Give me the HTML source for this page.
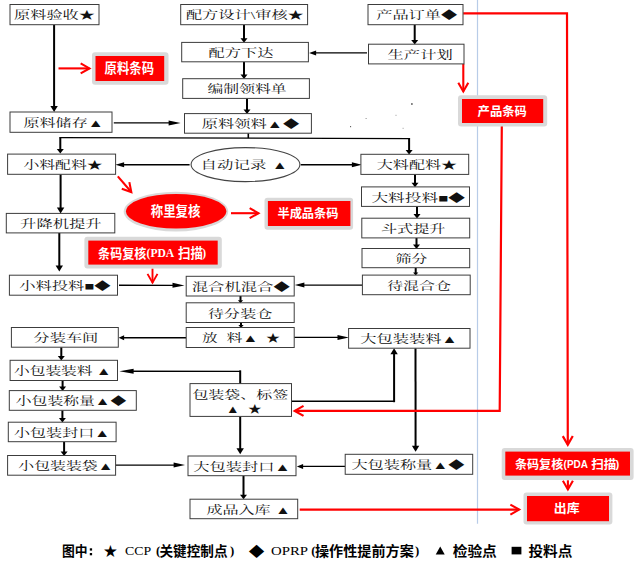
<!DOCTYPE html>
<html lang="zh"><head><meta charset="utf-8"><title>生产工艺流程图</title>
<style>
html,body{margin:0;padding:0;background:#fff;}
body{width:634px;height:566px;overflow:hidden;font-family:"Liberation Sans",sans-serif;}
svg{display:block;}
.bx{font-family:"Liberation Serif","Noto Serif CJK SC",serif;font-size:11px;fill:#111;}
.rd{font-family:"Liberation Sans","Noto Sans CJK SC",sans-serif;font-weight:bold;fill:#fff;}
.lg{font-family:"Liberation Sans","Noto Sans CJK SC",sans-serif;font-weight:bold;font-size:13.6px;fill:#000;}
</style></head><body>
<svg width="634" height="566" viewBox="0 0 634 566" role="img" aria-label="生产工艺流程图">
<rect width="634" height="566" fill="#fff"/>
<line x1="477.5" y1="0" x2="477.5" y2="523.7" stroke="#b8cce8" stroke-width="1.2"/>
<line x1="54.10" y1="24.70" x2="54.10" y2="107.30" stroke="#000" stroke-width="2.00"/>
<polygon points="54.10,112.10 50.40,106.10 57.80,106.10" fill="#000"/>
<line x1="244.00" y1="24.70" x2="244.00" y2="39.20" stroke="#000" stroke-width="2.00"/>
<polygon points="244.00,42.80 240.50,38.30 247.50,38.30" fill="#000"/>
<line x1="244.00" y1="61.80" x2="244.00" y2="75.50" stroke="#000" stroke-width="2.00"/>
<polygon points="244.00,79.10 240.50,74.60 247.50,74.60" fill="#000"/>
<line x1="247.00" y1="98.40" x2="247.00" y2="110.40" stroke="#000" stroke-width="2.00"/>
<polygon points="247.00,114.00 243.50,109.50 250.50,109.50" fill="#000"/>
<line x1="414.70" y1="24.70" x2="414.70" y2="41.00" stroke="#000" stroke-width="2.00"/>
<polygon points="414.70,44.60 411.20,40.10 418.20,40.10" fill="#000"/>
<line x1="367.00" y1="52.90" x2="314.70" y2="52.90" stroke="#000" stroke-width="1.40"/>
<polygon points="309.10,52.90 316.10,50.40 316.10,55.40" fill="#000"/>
<line x1="113.80" y1="122.90" x2="171.00" y2="122.90" stroke="#000" stroke-width="1.40"/>
<polygon points="180.60,122.90 168.60,125.40 168.60,120.40" fill="#000"/>
<line x1="60.30" y1="137.60" x2="60.30" y2="149.80" stroke="#000" stroke-width="2.00"/>
<polygon points="60.30,153.40 56.80,148.90 63.80,148.90" fill="#000"/>
<line x1="409.10" y1="138.60" x2="409.10" y2="151.00" stroke="#000" stroke-width="2.00"/>
<polygon points="409.10,154.60 405.60,150.10 412.60,150.10" fill="#000"/>
<line x1="189.60" y1="164.80" x2="122.36" y2="164.80" stroke="#000" stroke-width="1.40"/>
<polygon points="115.40,164.80 124.10,162.30 124.10,167.30" fill="#000"/>
<line x1="300.70" y1="164.70" x2="353.90" y2="164.70" stroke="#000" stroke-width="1.40"/>
<polygon points="361.90,164.70 351.90,167.20 351.90,162.20" fill="#000"/>
<line x1="60.60" y1="174.30" x2="60.60" y2="208.70" stroke="#000" stroke-width="2.00"/>
<polygon points="60.60,213.50 56.90,207.50 64.30,207.50" fill="#000"/>
<line x1="59.30" y1="232.90" x2="59.30" y2="266.70" stroke="#000" stroke-width="2.00"/>
<polygon points="59.30,271.50 55.60,265.50 63.00,265.50" fill="#000"/>
<line x1="415.00" y1="174.30" x2="415.00" y2="183.70" stroke="#000" stroke-width="2.00"/>
<polygon points="415.00,187.30 411.50,182.80 418.50,182.80" fill="#000"/>
<line x1="417.00" y1="206.40" x2="417.00" y2="215.00" stroke="#000" stroke-width="2.00"/>
<polygon points="417.00,218.60 413.50,214.10 420.50,214.10" fill="#000"/>
<line x1="416.50" y1="237.90" x2="416.50" y2="245.30" stroke="#000" stroke-width="2.00"/>
<polygon points="416.50,248.90 413.00,244.40 420.00,244.40" fill="#000"/>
<line x1="415.70" y1="267.70" x2="415.70" y2="273.20" stroke="#000" stroke-width="2.00"/>
<polygon points="415.70,275.60 413.10,272.60 418.30,272.60" fill="#000"/>
<line x1="119.00" y1="285.20" x2="174.90" y2="285.37" stroke="#000" stroke-width="1.40"/>
<polygon points="184.50,285.40 172.49,287.86 172.51,282.86" fill="#000"/>
<line x1="362.40" y1="285.10" x2="302.48" y2="285.10" stroke="#000" stroke-width="1.40"/>
<polygon points="294.80,285.10 304.40,282.60 304.40,287.60" fill="#000"/>
<line x1="240.50" y1="296.00" x2="240.50" y2="300.80" stroke="#000" stroke-width="2.00"/>
<polygon points="240.50,303.20 237.90,300.20 243.10,300.20" fill="#000"/>
<line x1="241.00" y1="322.50" x2="241.00" y2="325.50" stroke="#000" stroke-width="2.00"/>
<polygon points="241.00,327.90 238.40,324.90 243.60,324.90" fill="#000"/>
<line x1="186.20" y1="337.70" x2="123.00" y2="337.70" stroke="#000" stroke-width="1.40"/>
<polygon points="118.60,337.70 124.10,335.20 124.10,340.20" fill="#000"/>
<line x1="294.20" y1="337.40" x2="339.78" y2="337.40" stroke="#000" stroke-width="1.40"/>
<polygon points="348.90,337.40 337.50,339.90 337.50,334.90" fill="#000"/>
<line x1="61.30" y1="347.20" x2="61.30" y2="357.00" stroke="#000" stroke-width="2.00"/>
<polygon points="61.30,360.60 57.80,356.10 64.80,356.10" fill="#000"/>
<line x1="62.60" y1="380.50" x2="62.60" y2="387.40" stroke="#000" stroke-width="2.00"/>
<polygon points="62.60,391.00 59.10,386.50 66.10,386.50" fill="#000"/>
<line x1="62.40" y1="410.30" x2="62.40" y2="418.90" stroke="#000" stroke-width="2.00"/>
<polygon points="62.40,422.50 58.90,418.00 65.90,418.00" fill="#000"/>
<line x1="64.10" y1="441.70" x2="64.10" y2="452.30" stroke="#000" stroke-width="2.00"/>
<polygon points="64.10,455.90 60.60,451.40 67.60,451.40" fill="#000"/>
<line x1="240.20" y1="383.60" x2="240.20" y2="371.40" stroke="#000" stroke-width="2.00" stroke-linecap="square"/>
<line x1="240.20" y1="371.40" x2="130.76" y2="371.31" stroke="#000" stroke-width="1.40" stroke-linecap="square"/>
<polygon points="119.40,371.30 133.60,368.81 133.60,373.81" fill="#000"/>
<line x1="291.50" y1="401.20" x2="394.10" y2="401.20" stroke="#000" stroke-width="1.40" stroke-linecap="square"/>
<line x1="394.10" y1="401.20" x2="394.10" y2="353.00" stroke="#000" stroke-width="2.00" stroke-linecap="square"/>
<polygon points="394.10,348.20 397.80,354.20 390.40,354.20" fill="#000"/>
<line x1="415.50" y1="348.20" x2="415.60" y2="447.00" stroke="#000" stroke-width="2.00"/>
<polygon points="415.60,451.80 411.89,445.80 419.29,445.80" fill="#000"/>
<line x1="240.20" y1="416.40" x2="240.20" y2="449.50" stroke="#000" stroke-width="2.00"/>
<polygon points="240.20,454.30 236.50,448.30 243.90,448.30" fill="#000"/>
<line x1="115.60" y1="465.10" x2="175.88" y2="465.10" stroke="#000" stroke-width="1.40"/>
<polygon points="185.00,465.10 173.60,467.60 173.60,462.60" fill="#000"/>
<line x1="345.20" y1="466.40" x2="301.84" y2="466.40" stroke="#000" stroke-width="1.40"/>
<polygon points="296.80,466.40 303.10,463.90 303.10,468.90" fill="#000"/>
<line x1="243.50" y1="475.70" x2="243.50" y2="495.60" stroke="#000" stroke-width="2.00"/>
<polygon points="243.50,499.20 240.00,494.70 247.00,494.70" fill="#000"/>
<polyline points="248.3,133.2 248.3,138.1" fill="none" stroke="#000" stroke-width="1.6"/>
<polyline points="59.3,137.6 410.1,138.6" fill="none" stroke="#000" stroke-width="1.25"/>
<polyline points="58.50,68.40 89.47,68.40" fill="none" stroke="#ff0000" stroke-width="2.10" stroke-linejoin="miter"/>
<polyline points="80.67,73.40 89.47,68.40 80.67,63.40" fill="none" stroke="#ff0000" stroke-width="2.10" stroke-linecap="butt" stroke-linejoin="miter"/>
<polyline points="463.20,13.40 567.00,13.40 567.80,444.87" fill="none" stroke="#ff0000" stroke-width="2.20" stroke-linejoin="miter"/>
<polyline points="562.78,436.08 567.80,444.87 572.78,436.06" fill="none" stroke="#ff0000" stroke-width="2.20" stroke-linecap="butt" stroke-linejoin="miter"/>
<polyline points="463.30,64.00 463.30,91.47" fill="none" stroke="#ff0000" stroke-width="2.10" stroke-linejoin="miter"/>
<polyline points="458.30,82.67 463.30,91.47 468.30,82.67" fill="none" stroke="#ff0000" stroke-width="2.10" stroke-linecap="butt" stroke-linejoin="miter"/>
<polyline points="501.80,126.00 499.70,410.90 294.73,410.90" fill="none" stroke="#ff0000" stroke-width="2.20" stroke-linejoin="miter"/>
<polyline points="303.53,405.90 294.73,410.90 303.53,415.90" fill="none" stroke="#ff0000" stroke-width="2.20" stroke-linecap="butt" stroke-linejoin="miter"/>
<polyline points="117.80,176.40 131.31,192.04" fill="none" stroke="#ff0000" stroke-width="2.10" stroke-linejoin="miter"/>
<polyline points="121.77,188.65 131.31,192.04 129.34,182.11" fill="none" stroke="#ff0000" stroke-width="2.10" stroke-linecap="butt" stroke-linejoin="miter"/>
<polyline points="231.00,213.20 258.47,213.20" fill="none" stroke="#ff0000" stroke-width="2.10" stroke-linejoin="miter"/>
<polyline points="249.67,218.20 258.47,213.20 249.67,208.20" fill="none" stroke="#ff0000" stroke-width="2.10" stroke-linecap="butt" stroke-linejoin="miter"/>
<polyline points="152.50,268.50 152.50,282.68" fill="none" stroke="#ff0000" stroke-width="1.90" stroke-linejoin="miter"/>
<polyline points="147.50,273.88 152.50,282.68 157.50,273.88" fill="none" stroke="#ff0000" stroke-width="1.90" stroke-linecap="butt" stroke-linejoin="miter"/>
<polyline points="299.70,509.60 519.17,509.60" fill="none" stroke="#ff0000" stroke-width="2.10" stroke-linejoin="miter"/>
<polyline points="510.37,514.60 519.17,509.60 510.37,504.60" fill="none" stroke="#ff0000" stroke-width="2.10" stroke-linecap="butt" stroke-linejoin="miter"/>
<polyline points="567.90,480.30 567.90,489.47" fill="none" stroke="#ff0000" stroke-width="2.10" stroke-linejoin="miter"/>
<polyline points="562.90,480.67 567.90,489.47 572.90,480.67" fill="none" stroke="#ff0000" stroke-width="2.10" stroke-linecap="butt" stroke-linejoin="miter"/>
<rect x="10.00" y="4.50" width="89.00" height="20.20" fill="#fff" stroke="#3c3c3c" stroke-width="1"/>
<text class="bx" x="14.0" y="19.2" textLength="81.0" lengthAdjust="spacingAndGlyphs">原料验收★</text>
<rect x="180.70" y="4.50" width="126.90" height="20.20" fill="#fff" stroke="#3c3c3c" stroke-width="1"/>
<text class="bx" x="185.9" y="19.2" textLength="117.9" lengthAdjust="spacingAndGlyphs">配方设计&#92;审核★</text>
<rect x="368.00" y="4.50" width="95.00" height="20.20" fill="#fff" stroke="#3c3c3c" stroke-width="1"/>
<text class="bx" x="376.2" y="19.2" textLength="81.0" lengthAdjust="spacingAndGlyphs">产品订单◆</text>
<rect x="181.70" y="42.40" width="126.70" height="19.40" fill="#fff" stroke="#3c3c3c" stroke-width="1"/>
<text class="bx" x="208.6" y="57.1" textLength="64.9" lengthAdjust="spacingAndGlyphs">配方下达</text>
<rect x="368.50" y="44.20" width="95.50" height="19.70" fill="#fff" stroke="#3c3c3c" stroke-width="1"/>
<text class="bx" x="387.6" y="58.9" textLength="65.1" lengthAdjust="spacingAndGlyphs">生产计划</text>
<rect x="182.70" y="78.70" width="126.70" height="19.70" fill="#fff" stroke="#3c3c3c" stroke-width="1"/>
<text class="bx" x="207.5" y="93.4" textLength="79.2" lengthAdjust="spacingAndGlyphs">编制领料单</text>
<rect x="10.00" y="112.00" width="102.00" height="20.30" fill="#fff" stroke="#3c3c3c" stroke-width="1"/>
<text class="bx" x="23.4" y="126.7" textLength="80.4" lengthAdjust="spacingAndGlyphs">原料储存▲</text>
<rect x="184.50" y="113.60" width="126.90" height="19.60" fill="#fff" stroke="#3c3c3c" stroke-width="1"/>
<text class="bx" x="201.8" y="128.3" textLength="97.4" lengthAdjust="spacingAndGlyphs">原料领料▲◆</text>
<rect x="7.60" y="154.10" width="108.00" height="20.20" fill="#fff" stroke="#3c3c3c" stroke-width="1"/>
<text class="bx" x="23.4" y="168.8" textLength="79.3" lengthAdjust="spacingAndGlyphs">小料配料★</text>
<rect x="360.90" y="154.30" width="107.80" height="20.10" fill="#fff" stroke="#3c3c3c" stroke-width="1"/>
<text class="bx" x="376.8" y="169.0" textLength="80.3" lengthAdjust="spacingAndGlyphs">大料配料★</text>
<rect x="361.50" y="186.90" width="108.00" height="19.50" fill="#fff" stroke="#3c3c3c" stroke-width="1"/>
<text class="bx" x="371.4" y="201.6" textLength="93.6" lengthAdjust="spacingAndGlyphs">大料投料■◆</text>
<rect x="6.30" y="213.40" width="108.50" height="19.50" fill="#fff" stroke="#3c3c3c" stroke-width="1"/>
<text class="bx" x="20.1" y="228.1" textLength="81.6" lengthAdjust="spacingAndGlyphs">升降机提升</text>
<rect x="361.80" y="218.20" width="107.90" height="19.70" fill="#fff" stroke="#3c3c3c" stroke-width="1"/>
<text class="bx" x="380.9" y="232.9" textLength="64.5" lengthAdjust="spacingAndGlyphs">斗式提升</text>
<rect x="362.00" y="248.50" width="107.70" height="19.20" fill="#fff" stroke="#3c3c3c" stroke-width="1"/>
<text class="bx" x="395.4" y="263.2" textLength="32.0" lengthAdjust="spacingAndGlyphs">筛分</text>
<rect x="9.40" y="275.20" width="108.10" height="20.00" fill="#fff" stroke="#3c3c3c" stroke-width="1"/>
<text class="bx" x="19.2" y="289.9" textLength="91.4" lengthAdjust="spacingAndGlyphs">小料投料■◆</text>
<rect x="186.20" y="276.30" width="108.00" height="19.70" fill="#fff" stroke="#3c3c3c" stroke-width="1"/>
<text class="bx" x="191.7" y="291.0" textLength="98.1" lengthAdjust="spacingAndGlyphs">混合机混合◆</text>
<rect x="362.40" y="275.10" width="107.80" height="19.60" fill="#fff" stroke="#3c3c3c" stroke-width="1"/>
<text class="bx" x="387.2" y="289.8" textLength="63.7" lengthAdjust="spacingAndGlyphs">待混合仓</text>
<rect x="186.20" y="302.80" width="108.00" height="19.70" fill="#fff" stroke="#3c3c3c" stroke-width="1"/>
<text class="bx" x="208.1" y="317.5" textLength="64.1" lengthAdjust="spacingAndGlyphs">待分装仓</text>
<rect x="186.20" y="327.50" width="108.00" height="20.00" fill="#fff" stroke="#3c3c3c" stroke-width="1"/>
<text class="bx" x="202.0" y="342.2" textLength="15.5" lengthAdjust="spacingAndGlyphs">放</text>
<text class="bx" x="226.5" y="342.2" textLength="31.7" lengthAdjust="spacingAndGlyphs">料▲</text>
<text class="bx" x="266.0" y="342.2" textLength="14.0" lengthAdjust="spacingAndGlyphs">★</text>
<rect x="11.40" y="327.50" width="106.90" height="19.70" fill="#fff" stroke="#3c3c3c" stroke-width="1"/>
<text class="bx" x="33.5" y="342.2" textLength="64.8" lengthAdjust="spacingAndGlyphs">分装车间</text>
<rect x="348.60" y="328.50" width="121.40" height="19.70" fill="#fff" stroke="#3c3c3c" stroke-width="1"/>
<text class="bx" x="360.2" y="343.2" textLength="97.3" lengthAdjust="spacingAndGlyphs">大包装装料▲</text>
<rect x="10.10" y="360.30" width="107.40" height="20.20" fill="#fff" stroke="#3c3c3c" stroke-width="1"/>
<text class="bx" x="14.0" y="375.0" textLength="78.5" lengthAdjust="spacingAndGlyphs">小包装装料</text>
<text class="bx" x="96.0" y="375.0" textLength="15.4" lengthAdjust="spacingAndGlyphs">▲</text>
<rect x="9.30" y="390.60" width="127.00" height="19.70" fill="#fff" stroke="#3c3c3c" stroke-width="1"/>
<text class="bx" x="15.8" y="405.3" textLength="110.5" lengthAdjust="spacingAndGlyphs">小包装称量▲◆</text>
<rect x="8.30" y="422.20" width="107.80" height="19.50" fill="#fff" stroke="#3c3c3c" stroke-width="1"/>
<text class="bx" x="14.0" y="436.9" textLength="96.1" lengthAdjust="spacingAndGlyphs">小包装封口▲</text>
<rect x="7.60" y="455.50" width="108.00" height="19.70" fill="#fff" stroke="#3c3c3c" stroke-width="1"/>
<text class="bx" x="18.3" y="470.2" textLength="95.1" lengthAdjust="spacingAndGlyphs">小包装装袋▲</text>
<rect x="188.00" y="456.00" width="108.00" height="19.70" fill="#fff" stroke="#3c3c3c" stroke-width="1"/>
<text class="bx" x="193.2" y="470.7" textLength="97.3" lengthAdjust="spacingAndGlyphs">大包装封口▲</text>
<rect x="345.20" y="454.30" width="127.50" height="20.00" fill="#fff" stroke="#3c3c3c" stroke-width="1"/>
<text class="bx" x="351.4" y="469.0" textLength="113.1" lengthAdjust="spacingAndGlyphs">大包装称量▲◆</text>
<rect x="190.00" y="499.20" width="107.70" height="19.50" fill="#fff" stroke="#3c3c3c" stroke-width="1"/>
<text class="bx" x="206.4" y="513.9" textLength="64.2" lengthAdjust="spacingAndGlyphs">成品入库</text>
<text class="bx" x="275.2" y="513.9" textLength="15.4" lengthAdjust="spacingAndGlyphs">▲</text>
<rect x="190.00" y="383.60" width="101.50" height="32.80" fill="#fff" stroke="#3c3c3c" stroke-width="1"/>
<text class="bx" x="192.4" y="398.9" textLength="95.8" lengthAdjust="spacingAndGlyphs">包装袋、标签</text>
<text class="bx" x="226.0" y="413.2" textLength="13.6" lengthAdjust="spacingAndGlyphs">▲</text>
<text class="bx" x="247.9" y="413.2" textLength="13.6" lengthAdjust="spacingAndGlyphs">★</text>
<ellipse cx="245.5" cy="164.6" rx="54.4" ry="17" fill="#fff" stroke="#444" stroke-width="1.1"/>
<text class="bx" x="200.6" y="168.6" textLength="65.8" lengthAdjust="spacingAndGlyphs">自动记录</text>
<text class="bx" x="271.9" y="168.6" textLength="15.6" lengthAdjust="spacingAndGlyphs">▲</text>
<rect x="92.00" y="52.30" width="76.50" height="32.40" rx="3" fill="#d9d9d9"/>
<rect x="95.50" y="56.00" width="68.70" height="25.00" fill="#ff0000"/>
<text class="rd" x="104.6" y="73.2" font-size="13.2" textLength="49.4" lengthAdjust="spacingAndGlyphs">原料条码</text>
<rect x="458.00" y="95.20" width="89.20" height="31.30" rx="3" fill="#d9d9d9"/>
<rect x="462.00" y="99.00" width="81.20" height="24.00" fill="#ff0000"/>
<text class="rd" x="477.6" y="116.0" font-size="12.3" textLength="49.2" lengthAdjust="spacingAndGlyphs">产品条码</text>
<rect x="264.50" y="197.70" width="88.60" height="32.00" rx="3" fill="#d9d9d9"/>
<rect x="267.90" y="201.00" width="82.50" height="25.00" fill="#ff0000"/>
<text class="rd" x="277.4" y="217.7" font-size="12.2" textLength="61.2" lengthAdjust="spacingAndGlyphs">半成品条码</text>
<rect x="84.40" y="236.70" width="137.40" height="31.90" rx="3" fill="#d9d9d9"/>
<rect x="88.30" y="240.60" width="129.40" height="24.00" fill="#ff0000"/>
<rect x="501.70" y="448.00" width="131.90" height="31.90" rx="3" fill="#d9d9d9"/>
<rect x="505.30" y="451.60" width="124.70" height="24.00" fill="#ff0000"/>
<rect x="523.50" y="492.40" width="88.90" height="32.20" rx="3" fill="#d9d9d9"/>
<rect x="527.00" y="496.00" width="82.00" height="25.20" fill="#ff0000"/>
<text class="rd" x="553.8" y="512.8" font-size="12.3" textLength="25.8" lengthAdjust="spacingAndGlyphs">出库</text>
<ellipse cx="175.95" cy="211.55" rx="52.25" ry="19.85" fill="#d9d9d9"/>
<ellipse cx="176.15" cy="211.3" rx="50.15" ry="17.3" fill="#ff0000"/>
<text class="rd" x="150.7" y="216.4" font-size="13.2" textLength="49.8" lengthAdjust="spacingAndGlyphs">称里复核</text>
<text class="rd" x="98.1" y="257.6" font-size="12.9" textLength="48.2" lengthAdjust="spacingAndGlyphs">条码复核</text>
<text class="rd" x="178.0" y="257.6" font-size="13.1" textLength="24.9" lengthAdjust="spacingAndGlyphs">扫描</text>
<text x="146.6" y="257" font-family="Liberation Serif" font-weight="bold" font-size="11.5" fill="#fff" textLength="27.6" lengthAdjust="spacingAndGlyphs">(PDA</text>
<text x="202.3" y="257" font-family="Liberation Serif" font-weight="bold" font-size="11.5" fill="#fff">)</text>
<text class="rd" x="514.9" y="468.7" font-size="12.1" textLength="48.4" lengthAdjust="spacingAndGlyphs">条码复核</text>
<text class="rd" x="591.2" y="468.7" font-size="12.2" textLength="25.1" lengthAdjust="spacingAndGlyphs">扫描</text>
<text x="563.6" y="468.3" font-family="Liberation Sans" font-weight="bold" font-size="10.4" fill="#fff" textLength="24.4" lengthAdjust="spacingAndGlyphs">(PDA</text>
<text x="615.8" y="468.3" font-family="Liberation Sans" font-weight="bold" font-size="10.4" fill="#fff">)</text>
<text class="lg" x="62.0" y="555.6" textLength="25.6" lengthAdjust="spacingAndGlyphs">图中</text>
<rect x="89.8" y="548.3" width="2.3" height="2.3" fill="#000"/><rect x="89.8" y="553" width="2.3" height="2.3" fill="#000"/>
<text class="lg" x="103.7" y="555.6" textLength="13.3" lengthAdjust="spacingAndGlyphs">★</text>
<text x="125.0" y="555.2" font-family="Liberation Serif" font-weight="normal" font-size="12.8" fill="#000" textLength="26.2" lengthAdjust="spacingAndGlyphs">CCP</text>
<text x="156.0" y="555.2" font-family="Liberation Serif" font-weight="bold" font-size="12.8" fill="#000">(</text>
<text class="lg" x="159.5" y="555.6" textLength="68.0" lengthAdjust="spacingAndGlyphs">关键控制点</text>
<text x="230.0" y="555.2" font-family="Liberation Serif" font-weight="bold" font-size="12.8" fill="#000">)</text>
<text class="lg" x="248.7" y="555.6" textLength="15.6" lengthAdjust="spacingAndGlyphs">◆</text>
<text x="271.0" y="555.2" font-family="Liberation Serif" font-weight="normal" font-size="12.8" fill="#000" textLength="37.0" lengthAdjust="spacingAndGlyphs">OPRP</text>
<text x="311.3" y="555.2" font-family="Liberation Serif" font-weight="bold" font-size="12.8" fill="#000">(</text>
<text class="lg" x="315.0" y="555.6" textLength="98.8" lengthAdjust="spacingAndGlyphs">操作性提前方案</text>
<text x="415.0" y="555.2" font-family="Liberation Serif" font-weight="bold" font-size="12.8" fill="#000">)</text>
<polygon points="435.7,554.5 444.7,554.5 440.2,546.6" fill="#000"/>
<text class="lg" x="452.7" y="555.6" textLength="44.1" lengthAdjust="spacingAndGlyphs">检验点</text>
<rect x="511.6" y="546.8" width="9.8" height="7.6" fill="#000"/>
<text class="lg" x="528.4" y="555.6" textLength="44.0" lengthAdjust="spacingAndGlyphs">投料点</text>
<rect x="411.2" y="103.3" width="1.4" height="1.4" fill="#222"/>
<rect x="365.6" y="118.0" width="1" height="1" fill="#888"/>
<rect x="395.5" y="114.8" width="1" height="1" fill="#999"/>
<rect x="350.0" y="126.1" width="1.1" height="1.1" fill="#555"/>
<rect x="402.6" y="127.8" width="1" height="1" fill="#999"/>
</svg>
</body></html>
